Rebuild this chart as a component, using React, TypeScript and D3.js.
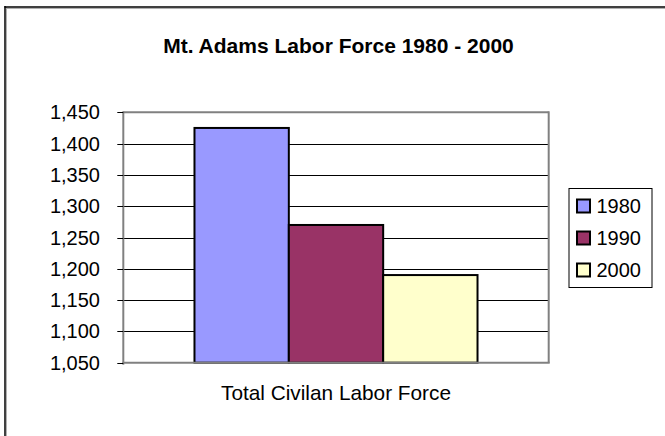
import React from "react";
import * as d3 from "d3";

const categories = ["Total Civilan Labor Force"];
const seriesNames = ["1980", "1990", "2000"];
const seriesValues = [1425, 1270, 1190];
const seriesColors = ["#9999FF", "#993366", "#FFFFCC"];
const yTicks = [1050, 1100, 1150, 1200, 1250, 1300, 1350, 1400, 1450];
const title = "Mt. Adams Labor Force 1980 - 2000";

const W = 665;
const H = 436;
const plot = { left: 123.3, right: 548.7, top: 112.3, bottom: 362.7 };
const FONT = "'Liberation Sans', Arial, Helvetica, sans-serif";

export default function App() {
  const y = d3.scaleLinear().domain([1050, 1450]).range([plot.bottom, plot.top]);
  const x0 = d3
    .scaleBand<string>()
    .domain(categories)
    .range([plot.left, plot.right])
    .paddingInner(0)
    .paddingOuter(0.2515);
  const x1 = d3.scaleBand<string>().domain(seriesNames).range([0, x0.bandwidth()]).padding(0);
  const fmt = d3.format(",");

  const legend = { x: 569, y: 188.5, w: 83, h: 99 };

  return (
    <svg
      width={W}
      height={H}
      style={{ position: "absolute", left: 0, top: 0, background: "#fff" }}
      fontFamily={FONT}
    >
      <rect x={0} y={0} width={W} height={H} fill="#fff" />
      {/* outer chart border (left and top only visible) */}
      <line x1={6.5} y1={7} x2={6.5} y2={H} stroke="#b0b0b0" strokeWidth={1} />
      <line x1={6} y1={8.5} x2={W} y2={8.5} stroke="#b0b0b0" strokeWidth={1} />
      <line x1={5} y1={6} x2={5} y2={H} stroke="#000" strokeWidth={1.5} />
      <line x1={4.5} y1={7} x2={W} y2={7} stroke="#000" strokeWidth={1.5} />

      {/* title */}
      <text
        x={338.5}
        y={53.3}
        textAnchor="middle"
        fontWeight="bold"
        fontSize={21}
        fill="#000"
      >
        {title}
      </text>

      {/* gridlines */}
      {yTicks.slice(1, -1).map((t) => (
        <line
          key={"g" + t}
          x1={plot.left}
          x2={plot.right}
          y1={Math.round(y(t)) + 0.5}
          y2={Math.round(y(t)) + 0.5}
          stroke="#000"
          strokeWidth={1}
        />
      ))}

      {/* plot border top/right */}
      <line x1={plot.left} x2={plot.right} y1={plot.top} y2={plot.top} stroke="#808080" strokeWidth={2} />
      <line x1={plot.right} x2={plot.right} y1={plot.top - 1} y2={plot.bottom} stroke="#808080" strokeWidth={2} />

      {/* bars */}
      {categories.map((c) =>
        seriesNames.map((s, i) => {
          const bx = (x0(c) ?? 0) + (x1(s) ?? 0);
          const by = y(seriesValues[i]);
          return (
            <rect
              key={c + s}
              x={bx}
              y={by}
              width={x1.bandwidth()}
              height={plot.bottom - by}
              fill={seriesColors[i]}
              stroke="#000"
              strokeWidth={2}
            />
          );
        })
      )}

      {/* axes */}
      <line x1={plot.left} x2={plot.left} y1={plot.top - 1} y2={plot.bottom + 2} stroke="#808080" strokeWidth={2} />
      <line x1={plot.left - 1} x2={plot.right + 1} y1={plot.bottom} y2={plot.bottom} stroke="#808080" strokeWidth={2} />

      {yTicks.map((t) => (
        <g key={"t" + t}>
          <line
            x1={plot.left - 6}
            x2={plot.left}
            y1={Math.round(y(t)) + 0.5}
            y2={Math.round(y(t)) + 0.5}
            stroke="#000"
            strokeWidth={1}
          />
          <text x={100} y={y(t) + 7} textAnchor="end" fontSize={20} fill="#000">
            {fmt(t)}
          </text>
        </g>
      ))}

      {/* category label */}
      {categories.map((c) => (
        <text
          key={"c" + c}
          x={(x0(c) ?? 0) + x0.bandwidth() / 2}
          y={400}
          textAnchor="middle"
          fontSize={20.8}
          fill="#000"
        >
          {c}
        </text>
      ))}

      {/* legend */}
      <rect
        x={legend.x}
        y={legend.y}
        width={legend.w}
        height={legend.h}
        fill="#fff"
        stroke="#000"
        strokeWidth={1}
      />
      {seriesNames.map((s, i) => {
        const cy = 206 + i * 32;
        return (
          <g key={"l" + s}>
            <rect
              x={577}
              y={cy - 6.5}
              width={13}
              height={13}
              fill={seriesColors[i]}
              stroke="#000"
              strokeWidth={2}
            />
            <text x={596.5} y={cy + 7} fontSize={20} fill="#000">
              {s}
            </text>
          </g>
        );
      })}
    </svg>
  );
}
